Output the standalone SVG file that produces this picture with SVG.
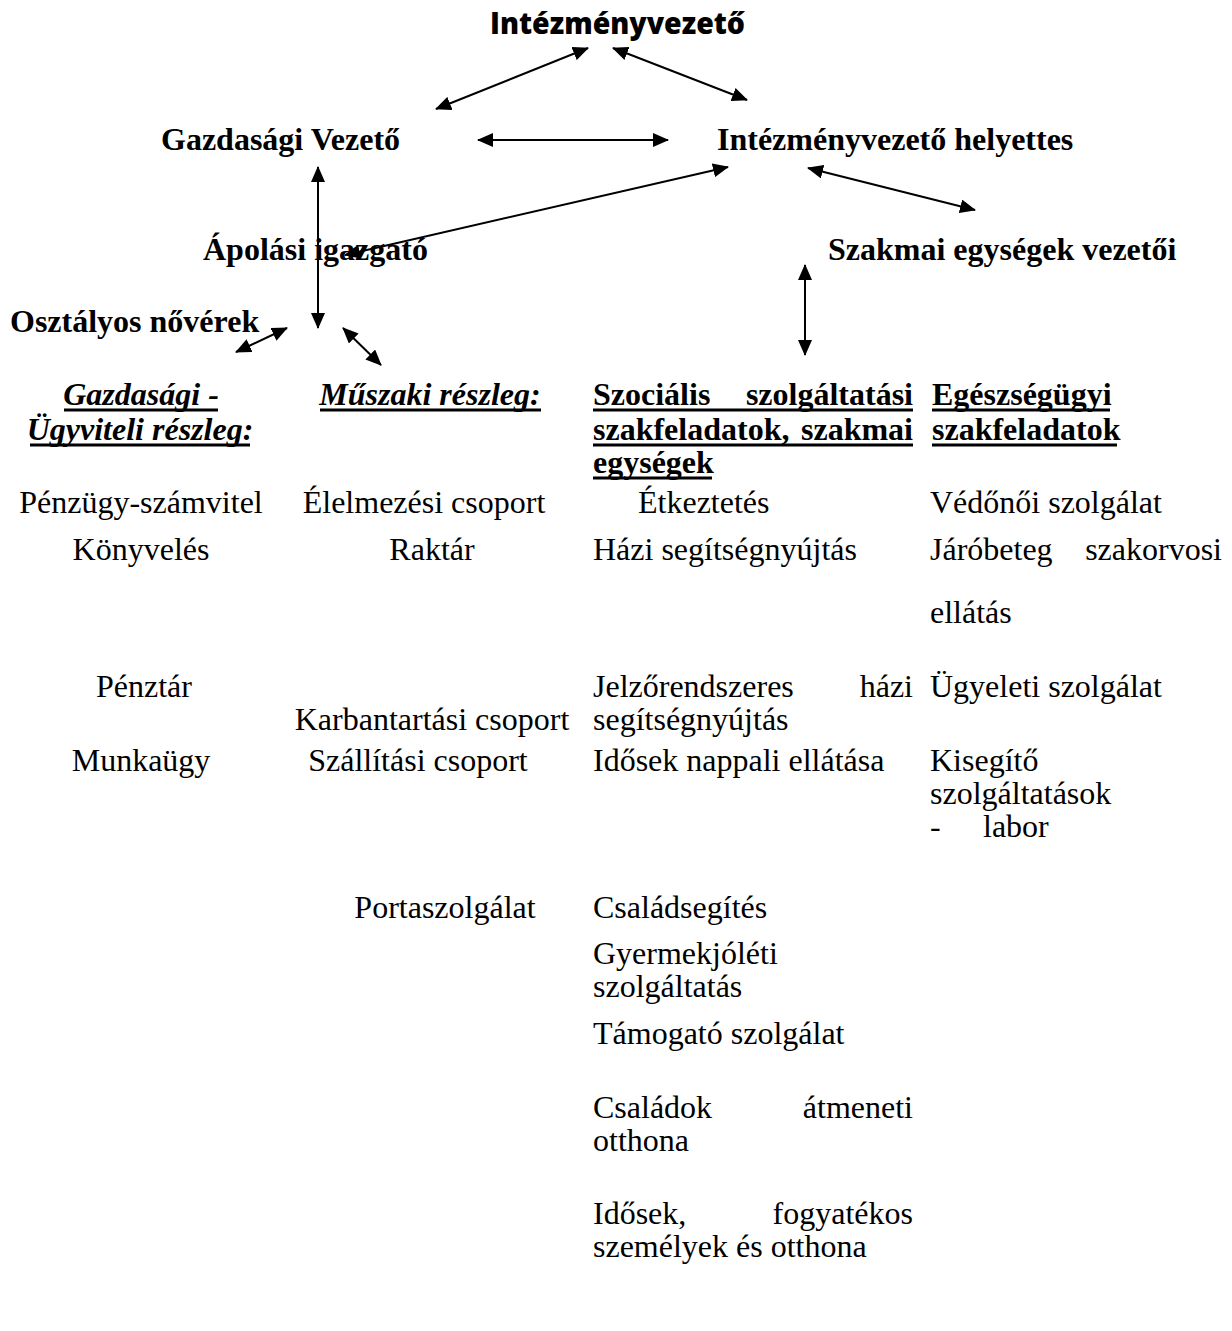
<svg xmlns="http://www.w3.org/2000/svg" width="1232" height="1331" viewBox="0 0 1232 1331">
<defs>
<marker id="ah" viewBox="0 0 16 14" refX="15" refY="7" markerWidth="16" markerHeight="14" markerUnits="userSpaceOnUse" orient="auto-start-reverse">
<path d="M0,0 L16,7 L0,14 Z" fill="#000"/>
</marker>
<style>
text{font-family:"Liberation Serif","Times New Roman",serif;font-size:32px;fill:#000}
.b{font-weight:bold}
.bi{font-weight:bold;font-style:italic}
.m{text-anchor:middle}
.e{text-anchor:end}
.t{font-family:"Open Sans","DejaVu Sans",sans-serif;font-weight:800;font-size:30px}
.c line{stroke:#000;stroke-width:2;marker-start:url(#ah);marker-end:url(#ah)}
.u{stroke:#000;stroke-width:3}
</style>
</defs>
<rect width="1232" height="1331" fill="#fff"/>
<g id="n-intezmenyvezeto"><text class="t" x="490" y="34" textLength="255" lengthAdjust="spacingAndGlyphs">Intézményvezető</text></g>
<g id="n-gazdasagi-vezeto"><text class="b" x="161" y="150">Gazdasági Vezető</text></g>
<g id="n-helyettes"><text class="b" x="717" y="150">Intézményvezető helyettes</text></g>
<g id="n-apolasi"><text class="b" x="203" y="260">Ápolási igazgató</text></g>
<g id="n-szakmai"><text class="b" x="828" y="260">Szakmai egységek vezetői</text></g>
<g id="n-osztalyos"><text class="b" x="10" y="332">Osztályos nővérek</text></g>
<g class="c" id="connectors">
<line x1="436" y1="109" x2="588" y2="48"/>
<line x1="613" y1="48" x2="747" y2="100"/>
<line x1="478" y1="140" x2="668" y2="140"/>
<line x1="318" y1="167" x2="318" y2="328"/>
<line x1="345" y1="255" x2="728" y2="167"/>
<line x1="808" y1="168" x2="975" y2="210"/>
<line x1="805" y1="265" x2="805" y2="355"/>
<line x1="236" y1="352" x2="287" y2="328"/>
<line x1="343" y1="328" x2="381" y2="365"/>
</g>
<g id="n-gazdasagi-ugyviteli">
<text class="bi m" x="141" y="405">Gazdasági -</text>
<text class="bi m" x="140" y="440">Ügyviteli részleg:</text>
<line class="u" x1="64" y1="410" x2="218" y2="410"/>
<line class="u" x1="30" y1="445" x2="250" y2="445"/>
<text class="m" x="141" y="513">Pénzügy-számvitel</text>
<text class="m" x="141" y="560">Könyvelés</text>
<text class="m" x="144" y="697">Pénztár</text>
<text class="m" x="141" y="771">Munkaügy</text>
</g>
<g id="n-muszaki">
<text class="bi m" x="430" y="405">Műszaki részleg:</text>
<line class="u" x1="320" y1="410" x2="541" y2="410"/>
<text class="m" x="424" y="513">Élelmezési csoport</text>
<text class="m" x="432" y="560">Raktár</text>
<text class="m" x="432" y="730">Karbantartási csoport</text>
<text class="m" x="418" y="771">Szállítási csoport</text>
<text class="m" x="445" y="918">Portaszolgálat</text>
</g>
<g id="n-szocialis">
<text class="b" x="593" y="405">Szociális</text><text class="b e" x="913" y="405">szolgáltatási</text>
<text class="b" x="593" y="440">szakfeladatok,</text><text class="b e" x="913" y="440">szakmai</text>
<text class="b" x="593" y="473">egységek</text>
<line class="u" x1="593" y1="410" x2="913" y2="410"/>
<line class="u" x1="593" y1="445" x2="913" y2="445"/>
<line class="u" x1="593" y1="478" x2="712" y2="478"/>
<text x="638" y="513">Étkeztetés</text>
<text x="593" y="560">Házi segítségnyújtás</text>
<text x="593" y="697">Jelzőrendszeres</text><text class="e" x="913" y="697">házi</text>
<text x="593" y="730">segítségnyújtás</text>
<text x="593" y="771">Idősek nappali ellátása</text>
<text x="593" y="918">Családsegítés</text>
<text x="593" y="964">Gyermekjóléti</text>
<text x="593" y="997">szolgáltatás</text>
<text x="593" y="1044">Támogató szolgálat</text>
<text x="593" y="1118">Családok</text><text class="e" x="913" y="1118">átmeneti</text>
<text x="593" y="1151">otthona</text>
<text x="593" y="1224">Idősek,</text><text class="e" x="913" y="1224">fogyatékos</text>
<text x="593" y="1257">személyek és otthona</text>
</g>
<g id="n-egeszsegugyi">
<text class="b" x="932" y="405">Egészségügyi</text>
<text class="b" x="932" y="440">szakfeladatok</text>
<line class="u" x1="932" y1="410" x2="1110" y2="410"/>
<line class="u" x1="932" y1="445" x2="1117" y2="445"/>
<text x="930" y="513">Védőnői szolgálat</text>
<text x="930" y="560">Járóbeteg</text><text class="e" x="1222" y="560">szakorvosi</text>
<text x="930" y="623">ellátás</text>
<text x="930" y="697">Ügyeleti szolgálat</text>
<text x="930" y="771">Kisegítő</text>
<text x="930" y="804">szolgáltatások</text>
<text x="930" y="837">-</text><text x="983" y="837">labor</text>
</g>
</svg>
